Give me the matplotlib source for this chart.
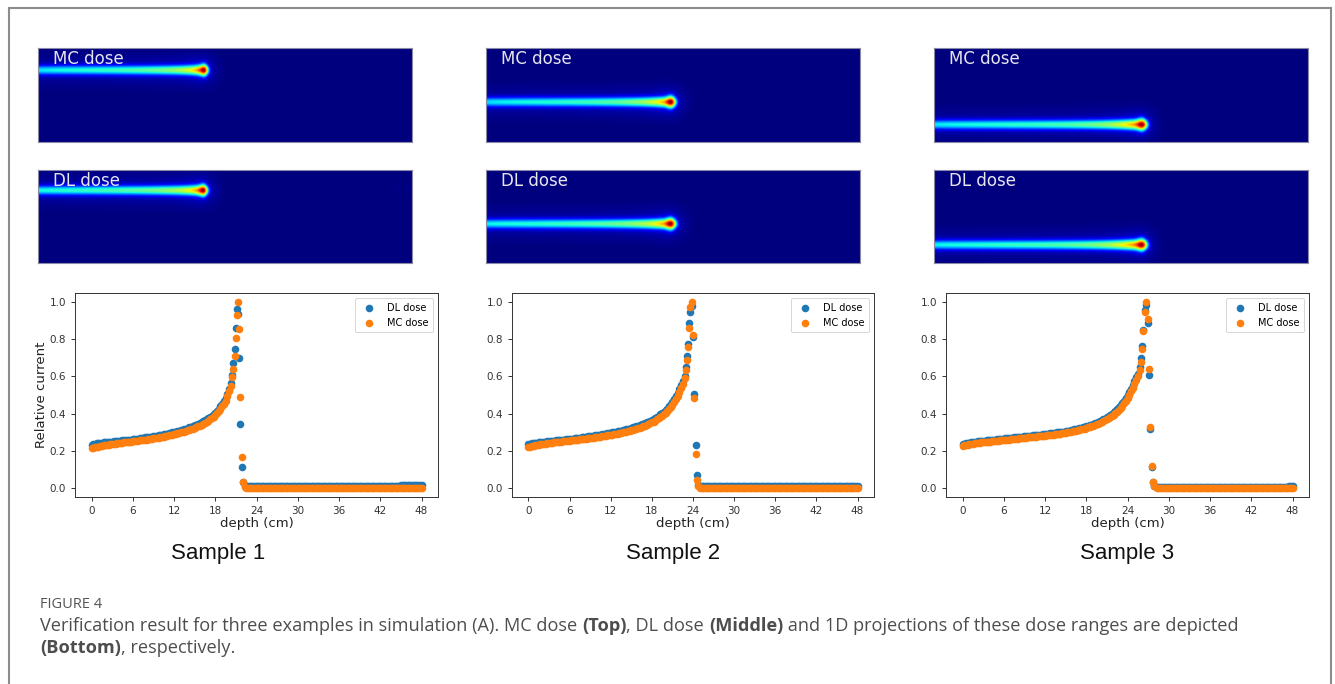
import numpy as np
import matplotlib
matplotlib.use("Agg")
import matplotlib.pyplot as plt
from matplotlib.colors import PowerNorm
from matplotlib.lines import Line2D

W, H = 1335, 684

# ---------------- data ----------------
samples = ["Sample 1", "Sample 2", "Sample 3"]
x_ticks = [0, 6, 12, 18, 24, 30, 36, 42, 48]
y_ticks = [0.0, 0.2, 0.4, 0.6, 0.8, 1.0]
step = 0.25                       # depth sampling (cm) of plateau / tail readings
tail_start = [22.5, 25.0, 28.25]  # depth where the flat tail readings start

# ---- Sample 1 ----
mc1_plateau = [0.212, 0.215, 0.218, 0.220, 0.222, 0.224, 0.226, 0.228, 0.229, 0.231,
               0.232, 0.234, 0.235, 0.236, 0.238, 0.239, 0.240, 0.241, 0.242, 0.244,
               0.245, 0.246, 0.247, 0.249, 0.250, 0.251, 0.252, 0.254, 0.255, 0.256,
               0.257, 0.259, 0.260, 0.261, 0.263, 0.264, 0.266, 0.267, 0.269, 0.270,
               0.272, 0.274, 0.276, 0.278, 0.280, 0.282, 0.284, 0.286, 0.288, 0.290,
               0.293, 0.295, 0.298, 0.300, 0.303, 0.306, 0.309, 0.312, 0.316, 0.319,
               0.323, 0.327, 0.331, 0.335, 0.340, 0.345, 0.350, 0.356, 0.362, 0.369,
               0.376, 0.384, 0.392, 0.401, 0.412, 0.424, 0.438, 0.453, 0.470, 0.493,
               0.520, 0.550]
dl1_plateau = [0.233, 0.235, 0.237, 0.239, 0.240, 0.241, 0.243, 0.244, 0.245, 0.246,
               0.247, 0.248, 0.249, 0.250, 0.251, 0.252, 0.253, 0.254, 0.255, 0.256,
               0.257, 0.258, 0.259, 0.260, 0.261, 0.262, 0.264, 0.265, 0.266, 0.268,
               0.269, 0.271, 0.272, 0.273, 0.275, 0.276, 0.278, 0.279, 0.281, 0.282,
               0.284, 0.286, 0.288, 0.290, 0.292, 0.294, 0.296, 0.298, 0.300, 0.302,
               0.305, 0.307, 0.310, 0.313, 0.316, 0.319, 0.322, 0.325, 0.329, 0.332,
               0.336, 0.340, 0.344, 0.348, 0.353, 0.358, 0.363, 0.369, 0.375, 0.382,
               0.389, 0.397, 0.405, 0.415, 0.425, 0.438, 0.452, 0.467, 0.485, 0.508,
               0.535, 0.565]
peak1_depth = [20.45, 20.6, 20.8, 21.0, 21.2, 21.35, 21.5, 21.65, 21.85, 22.05, 22.3]
mc1_peak = [0.595, 0.640, 0.710, 0.805, 0.930, 1.000, 0.857, 0.490, 0.167, 0.030, 0.005]
dl1_peak = [0.610, 0.670, 0.750, 0.860, 0.964, 0.935, 0.700, 0.345, 0.110, 0.030, 0.012]
mc1_tail = [0.0, 0.0, 0.0, 0.0, 0.0, 0.0, 0.0, 0.0, 0.0, 0.0,
            0.0, 0.0, 0.0, 0.0, 0.0, 0.0, 0.0, 0.0, 0.0, 0.0,
            0.0, 0.0, 0.0, 0.0, 0.0, 0.0, 0.0, 0.0, 0.0, 0.0,
            0.0, 0.0, 0.0, 0.0, 0.0, 0.0, 0.0, 0.0, 0.0, 0.0,
            0.0, 0.0, 0.0, 0.0, 0.0, 0.0, 0.0, 0.0, 0.0, 0.0,
            0.0, 0.0, 0.0, 0.0, 0.0, 0.0, 0.0, 0.0, 0.0, 0.0,
            0.0, 0.0, 0.0, 0.0, 0.0, 0.0, 0.0, 0.0, 0.0, 0.0,
            0.0, 0.0, 0.0, 0.0, 0.0, 0.0, 0.0, 0.0, 0.0, 0.0,
            0.0, 0.0, 0.0, 0.0, 0.0, 0.0, 0.0, 0.0, 0.0, 0.0,
            0.0, 0.0, 0.0, 0.0, 0.0, 0.0, 0.0, 0.0, 0.0, 0.0,
            0.0, 0.0, 0.0]
dl1_tail = [0.011, 0.011, 0.011, 0.011, 0.011, 0.011, 0.011, 0.011, 0.011, 0.011,
            0.011, 0.011, 0.011, 0.011, 0.011, 0.011, 0.011, 0.011, 0.011, 0.011,
            0.011, 0.011, 0.011, 0.011, 0.011, 0.011, 0.011, 0.011, 0.011, 0.011,
            0.011, 0.011, 0.011, 0.011, 0.011, 0.011, 0.011, 0.011, 0.011, 0.011,
            0.011, 0.011, 0.011, 0.011, 0.011, 0.011, 0.011, 0.011, 0.011, 0.011,
            0.011, 0.011, 0.011, 0.011, 0.011, 0.011, 0.011, 0.011, 0.011, 0.011,
            0.011, 0.011, 0.011, 0.011, 0.011, 0.011, 0.011, 0.011, 0.011, 0.011,
            0.011, 0.011, 0.011, 0.011, 0.011, 0.011, 0.011, 0.011, 0.011, 0.011,
            0.011, 0.011, 0.011, 0.011, 0.011, 0.011, 0.011, 0.011, 0.011, 0.012,
            0.013, 0.014, 0.015, 0.016, 0.016, 0.015, 0.014, 0.014, 0.015, 0.016,
            0.016, 0.015, 0.015]

# ---- Sample 2 ----
mc2_plateau = [0.218, 0.221, 0.224, 0.226, 0.228, 0.230, 0.232, 0.234, 0.235, 0.236,
               0.238, 0.239, 0.240, 0.241, 0.243, 0.244, 0.245, 0.246, 0.247, 0.249,
               0.250, 0.251, 0.252, 0.253, 0.254, 0.255, 0.256, 0.257, 0.258, 0.259,
               0.261, 0.262, 0.263, 0.264, 0.265, 0.267, 0.268, 0.269, 0.270, 0.272,
               0.273, 0.274, 0.276, 0.277, 0.279, 0.280, 0.282, 0.283, 0.285, 0.287,
               0.288, 0.290, 0.292, 0.294, 0.296, 0.298, 0.300, 0.302, 0.305, 0.307,
               0.310, 0.312, 0.315, 0.318, 0.321, 0.324, 0.328, 0.331, 0.335, 0.339,
               0.343, 0.347, 0.352, 0.357, 0.362, 0.368, 0.374, 0.381, 0.388, 0.396,
               0.404, 0.413, 0.424, 0.435, 0.448, 0.462, 0.478, 0.496, 0.515, 0.537,
               0.560]
dl2_plateau = [0.235, 0.237, 0.239, 0.241, 0.242, 0.243, 0.245, 0.246, 0.247, 0.248,
               0.249, 0.250, 0.251, 0.252, 0.253, 0.254, 0.255, 0.256, 0.257, 0.258,
               0.259, 0.260, 0.261, 0.262, 0.263, 0.264, 0.265, 0.267, 0.268, 0.269,
               0.270, 0.272, 0.273, 0.274, 0.275, 0.277, 0.278, 0.279, 0.281, 0.282,
               0.284, 0.285, 0.287, 0.288, 0.290, 0.291, 0.293, 0.294, 0.296, 0.298,
               0.300, 0.302, 0.304, 0.306, 0.308, 0.310, 0.312, 0.314, 0.317, 0.319,
               0.322, 0.325, 0.328, 0.331, 0.334, 0.337, 0.341, 0.344, 0.348, 0.352,
               0.356, 0.360, 0.365, 0.370, 0.376, 0.382, 0.388, 0.395, 0.402, 0.410,
               0.418, 0.427, 0.438, 0.449, 0.462, 0.476, 0.492, 0.510, 0.530, 0.552,
               0.575]
peak2_depth = [22.8, 23.0, 23.1, 23.2, 23.4, 23.6, 23.85, 24.0, 24.2, 24.4, 24.6, 24.8]
mc2_peak = [0.590, 0.633, 0.690, 0.760, 0.860, 0.973, 1.000, 0.826, 0.482, 0.183, 0.043, 0.008]
dl2_peak = [0.600, 0.650, 0.710, 0.776, 0.890, 0.950, 0.982, 0.815, 0.504, 0.228, 0.068, 0.015]
mc2_tail = [0.0, 0.0, 0.0, 0.0, 0.0, 0.0, 0.0, 0.0, 0.0, 0.0,
            0.0, 0.0, 0.0, 0.0, 0.0, 0.0, 0.0, 0.0, 0.0, 0.0,
            0.0, 0.0, 0.0, 0.0, 0.0, 0.0, 0.0, 0.0, 0.0, 0.0,
            0.0, 0.0, 0.0, 0.0, 0.0, 0.0, 0.0, 0.0, 0.0, 0.0,
            0.0, 0.0, 0.0, 0.0, 0.0, 0.0, 0.0, 0.0, 0.0, 0.0,
            0.0, 0.0, 0.0, 0.0, 0.0, 0.0, 0.0, 0.0, 0.0, 0.0,
            0.0, 0.0, 0.0, 0.0, 0.0, 0.0, 0.0, 0.0, 0.0, 0.0,
            0.0, 0.0, 0.0, 0.0, 0.0, 0.0, 0.0, 0.0, 0.0, 0.0,
            0.0, 0.0, 0.0, 0.0, 0.0, 0.0, 0.0, 0.0, 0.0, 0.0,
            0.0, 0.0, 0.0]
dl2_tail = [0.010, 0.010, 0.010, 0.010, 0.010, 0.010, 0.010, 0.010, 0.010, 0.010,
            0.010, 0.010, 0.010, 0.009, 0.009, 0.009, 0.009, 0.009, 0.008, 0.008,
            0.008, 0.008, 0.008, 0.008, 0.008, 0.008, 0.008, 0.008, 0.008, 0.008,
            0.008, 0.008, 0.008, 0.008, 0.008, 0.008, 0.008, 0.008, 0.008, 0.008,
            0.008, 0.008, 0.008, 0.008, 0.010, 0.011, 0.011, 0.010, 0.010, 0.010,
            0.008, 0.008, 0.008, 0.008, 0.008, 0.008, 0.008, 0.008, 0.008, 0.008,
            0.008, 0.008, 0.008, 0.008, 0.010, 0.011, 0.011, 0.011, 0.011, 0.010,
            0.008, 0.008, 0.008, 0.008, 0.008, 0.008, 0.008, 0.008, 0.008, 0.008,
            0.008, 0.008, 0.008, 0.008, 0.008, 0.008, 0.008, 0.008, 0.008, 0.008,
            0.009, 0.011, 0.012]

# ---- Sample 3 ----
mc3_plateau = [0.225, 0.228, 0.230, 0.232, 0.234, 0.236, 0.238, 0.240, 0.241, 0.242,
               0.243, 0.244, 0.245, 0.246, 0.247, 0.248, 0.249, 0.250, 0.251, 0.252,
               0.253, 0.254, 0.255, 0.256, 0.257, 0.258, 0.259, 0.260, 0.261, 0.262,
               0.263, 0.264, 0.265, 0.266, 0.267, 0.268, 0.269, 0.270, 0.271, 0.272,
               0.273, 0.274, 0.275, 0.276, 0.277, 0.278, 0.279, 0.280, 0.281, 0.282,
               0.283, 0.285, 0.286, 0.287, 0.288, 0.290, 0.291, 0.292, 0.294, 0.295,
               0.297, 0.299, 0.300, 0.302, 0.304, 0.306, 0.308, 0.310, 0.312, 0.314,
               0.317, 0.319, 0.322, 0.325, 0.328, 0.331, 0.334, 0.337, 0.341, 0.345,
               0.349, 0.353, 0.358, 0.363, 0.368, 0.374, 0.380, 0.387, 0.394, 0.402,
               0.410, 0.420, 0.430, 0.442, 0.455, 0.469, 0.485, 0.502, 0.520, 0.540,
               0.560, 0.580, 0.600]
dl3_plateau = [0.236, 0.238, 0.240, 0.242, 0.243, 0.245, 0.246, 0.248, 0.249, 0.250,
               0.251, 0.252, 0.253, 0.254, 0.255, 0.256, 0.257, 0.258, 0.259, 0.260,
               0.261, 0.262, 0.263, 0.264, 0.265, 0.266, 0.267, 0.268, 0.269, 0.270,
               0.271, 0.272, 0.273, 0.274, 0.275, 0.276, 0.277, 0.278, 0.279, 0.280,
               0.281, 0.282, 0.283, 0.284, 0.285, 0.286, 0.287, 0.288, 0.289, 0.290,
               0.292, 0.293, 0.294, 0.295, 0.297, 0.298, 0.299, 0.300, 0.302, 0.303,
               0.305, 0.307, 0.308, 0.310, 0.312, 0.314, 0.316, 0.318, 0.321, 0.323,
               0.326, 0.328, 0.331, 0.334, 0.337, 0.340, 0.344, 0.347, 0.351, 0.355,
               0.359, 0.364, 0.368, 0.373, 0.379, 0.385, 0.392, 0.399, 0.406, 0.414,
               0.423, 0.433, 0.444, 0.456, 0.469, 0.484, 0.500, 0.517, 0.535, 0.555,
               0.575, 0.595, 0.615]
peak3_depth = [25.8, 25.9, 26.1, 26.3, 26.5, 26.7, 26.95, 27.1, 27.3, 27.5, 27.7, 27.9]
mc3_peak = [0.633, 0.680, 0.750, 0.844, 0.946, 1.000, 0.910, 0.642, 0.328, 0.115, 0.030, 0.008]
dl3_peak = [0.650, 0.700, 0.764, 0.850, 0.960, 0.984, 0.888, 0.610, 0.317, 0.110, 0.030, 0.010]
mc3_tail = [0.0, 0.0, 0.0, 0.0, 0.0, 0.0, 0.0, 0.0, 0.0, 0.0,
            0.0, 0.0, 0.0, 0.0, 0.0, 0.0, 0.0, 0.0, 0.0, 0.0,
            0.0, 0.0, 0.0, 0.0, 0.0, 0.0, 0.0, 0.0, 0.0, 0.0,
            0.0, 0.0, 0.0, 0.0, 0.0, 0.0, 0.0, 0.0, 0.0, 0.0,
            0.0, 0.0, 0.0, 0.0, 0.0, 0.0, 0.0, 0.0, 0.0, 0.0,
            0.0, 0.0, 0.0, 0.0, 0.0, 0.0, 0.0, 0.0, 0.0, 0.0,
            0.0, 0.0, 0.0, 0.0, 0.0, 0.0, 0.0, 0.0, 0.0, 0.0,
            0.0, 0.0, 0.0, 0.0, 0.0, 0.0, 0.0, 0.0, 0.0, 0.0]
dl3_tail = [0.005, 0.005, 0.005, 0.005, 0.005, 0.005, 0.005, 0.005, 0.005, 0.005,
            0.005, 0.005, 0.005, 0.005, 0.005, 0.005, 0.005, 0.005, 0.005, 0.005,
            0.005, 0.005, 0.005, 0.005, 0.005, 0.005, 0.005, 0.005, 0.005, 0.005,
            0.005, 0.005, 0.005, 0.005, 0.005, 0.005, 0.005, 0.005, 0.005, 0.005,
            0.005, 0.005, 0.005, 0.005, 0.005, 0.005, 0.005, 0.005, 0.005, 0.005,
            0.005, 0.005, 0.005, 0.005, 0.005, 0.005, 0.005, 0.005, 0.005, 0.005,
            0.005, 0.005, 0.005, 0.005, 0.005, 0.005, 0.005, 0.005, 0.005, 0.005,
            0.005, 0.005, 0.005, 0.005, 0.005, 0.005, 0.006, 0.008, 0.010, 0.012]

# lateral beam centre (cm from top of the 12 cm field) in the MC / DL maps
beam_center_mc = [2.8, 6.9, 9.8]
beam_center_dl = [2.7, 7.0, 9.7]

mc_plateau = [mc1_plateau, mc2_plateau, mc3_plateau]
dl_plateau = [dl1_plateau, dl2_plateau, dl3_plateau]
peak_depth = [peak1_depth, peak2_depth, peak3_depth]
mc_peak = [mc1_peak, mc2_peak, mc3_peak]
dl_peak = [dl1_peak, dl2_peak, dl3_peak]
mc_tail = [mc1_tail, mc2_tail, mc3_tail]
dl_tail = [dl1_tail, dl2_tail, dl3_tail]


def series(i):
    d = np.concatenate([np.arange(len(mc_plateau[i])) * step,
                        np.array(peak_depth[i]),
                        tail_start[i] + np.arange(len(mc_tail[i])) * step])
    mc = np.concatenate([mc_plateau[i], mc_peak[i], mc_tail[i]])
    dl = np.concatenate([dl_plateau[i], dl_peak[i], dl_tail[i]])
    return d, mc, dl


def blur(img, s_px):
    r = int(3 * s_px) + 1
    k = np.exp(-np.arange(-r, r + 1) ** 2 / (2 * s_px ** 2))
    k /= k.sum()
    pad = np.pad(img, r, mode="edge")
    out = np.apply_along_axis(lambda v: np.convolve(v, k, mode="valid"), 1, pad)
    out = np.apply_along_axis(lambda v: np.convolve(v, k, mode="valid"), 0, out)
    return out


def dose_map(depth, prof, yc):
    px = 12.5  # pixels per cm
    xs = np.linspace(0, 48, 600)
    ys = np.linspace(0, 12, 150)
    p = np.interp(xs, depth, prof)
    p = np.clip(p - 0.015, 0, None)
    X, Y = np.meshgrid(xs, ys)
    P = np.tile(p, (len(ys), 1))
    sig = 0.30 + 0.12 * P ** 2
    core = P * np.exp(-(Y - yc) ** 2 / (2 * sig ** 2))
    img = blur(core, 0.18 * px) + 0.10 * blur(core, 1.0 * px)
    return img / img.max()


def rect(l, t, r, b):
    return [l / W, 1 - b / H, (r - l) / W, (b - t) / H]


fig = plt.figure(figsize=(W / 100, H / 100), dpi=100)
fig.patch.set_facecolor("white")

col_img_left = [38, 486, 934]
col_sc = [(75, 438), (512, 874), (946, 1309)]
label_x = [218, 673, 1127]

for i in range(3):
    d, mc, dl = series(i)
    for name, prof, yc, top, bot in [
            ("MC dose", mc, beam_center_mc[i], 48, 142),
            ("DL dose", dl, beam_center_dl[i], 170, 263)]:
        ax = fig.add_axes(rect(col_img_left[i], top, col_img_left[i] + 374, bot))
        img = dose_map(d, prof, yc)
        ax.imshow(img, cmap="jet", norm=PowerNorm(0.68, vmin=0, vmax=1.0),
                  extent=[0, 48, 12, 0], aspect="auto", interpolation="bilinear")
        ax.set_xticks([])
        ax.set_yticks([])
        for s in ax.spines.values():
            s.set_color("#8a8aa8")
            s.set_linewidth(0.8)
        ax.text(0.04, 0.885, name, transform=ax.transAxes, color="#e6e6ee",
                fontsize=12, va="center", ha="left", family="DejaVu Sans")

    l, r = col_sc[i]
    ax = fig.add_axes(rect(l, 293, r, 497))
    ax.scatter(d, dl, s=30, color="#1f77b4", linewidths=0, label="DL dose")
    ax.scatter(d, mc, s=30, color="#ff7f0e", linewidths=0, label="MC dose")
    ax.set_xticks(x_ticks)
    ax.set_yticks(y_ticks)
    ax.set_yticklabels([f"{v:.1f}" for v in y_ticks])
    ax.set_xlim(-2.4, 50.4)
    ax.set_ylim(-0.05, 1.05)
    ax.tick_params(labelsize=7.5, colors="#333333", length=3, width=0.7)
    for s in ax.spines.values():
        s.set_color("#333333")
        s.set_linewidth(0.7)
    ax.set_xlabel("depth (cm)", fontsize=9.5, color="#222222", labelpad=1)
    if i == 0:
        ax.set_ylabel("Relative current", fontsize=9.5, color="#222222", labelpad=1)
    leg = ax.legend(loc="upper right", fontsize=7, frameon=True, handletextpad=0.8,
                    borderpad=0.5, markerscale=1.0)
    leg.get_frame().set_edgecolor("#cccccc")
    leg.get_frame().set_linewidth(0.7)

    fig.text(label_x[i] / W, 1 - 553 / H, samples[i], ha="center", va="center",
             fontsize=16, family="Liberation Sans", color="#111111")

# border
for xs_, ys_ in [([9, 9], [684, 8]), ([9, 1331], [8, 8]), ([1331, 1331], [8, 684])]:
    fig.add_artist(Line2D([v / W for v in xs_], [1 - v / H for v in ys_],
                          transform=fig.transFigure, color="#8c8c8c", lw=1.5))

# caption
cap_col = "#4d4d4d"
fig.text(40 / W, 1 - 604 / H, "FIGURE 4", fontsize=10.5, family="Open Sans",
         color="#555555", va="center", ha="left")

renderer = fig.canvas.get_renderer()


def rich_line(parts, x0, yc):
    x = x0
    for txt, bold in parts:
        t = fig.text(x / W, 1 - yc / H, txt, fontsize=13.1, family="Open Sans",
                     weight="bold" if bold else "normal", color=cap_col,
                     va="center", ha="left")
        bb = t.get_window_extent(renderer)
        x += bb.width


rich_line([("Verification result for three examples in simulation (A). MC dose ", False),
           ("(Top)", True), (", DL dose ", False), ("(Middle)", True),
           (" and 1D projections of these dose ranges are depicted", False)], 40, 626)
rich_line([("(Bottom)", True), (", respectively.", False)], 40, 648)

fig.savefig("out.png", dpi=100, facecolor="white")
